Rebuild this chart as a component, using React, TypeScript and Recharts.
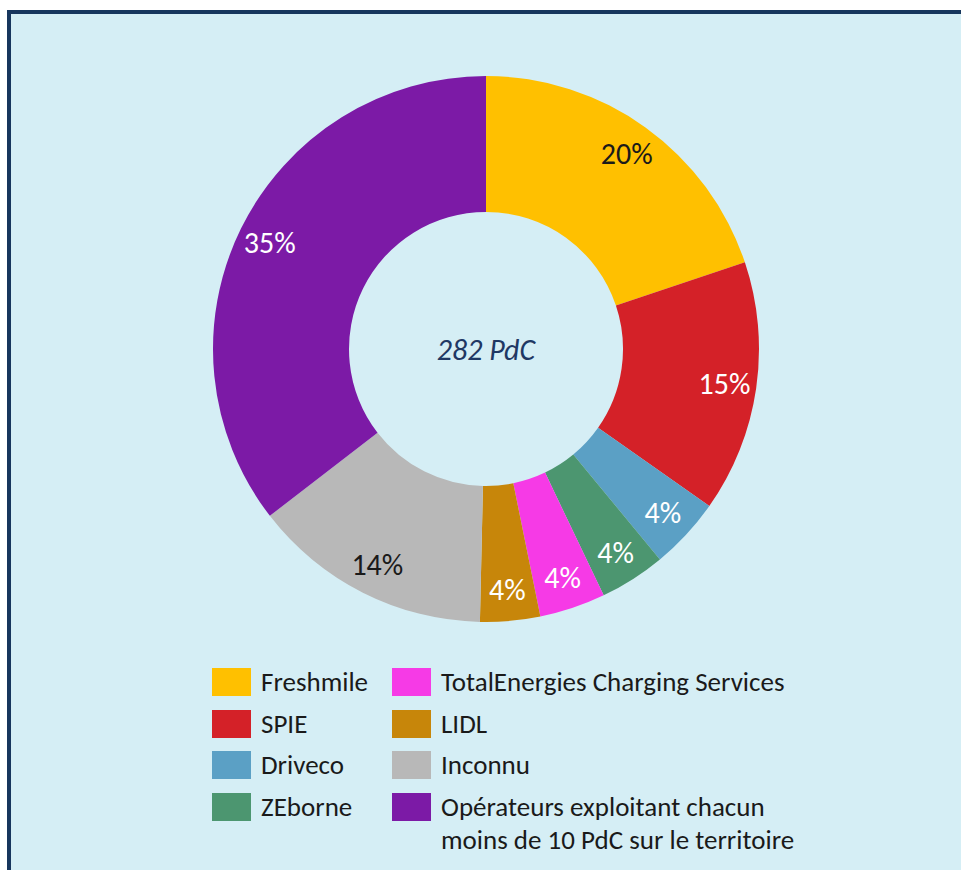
import React from 'react';
import { PieChart, Pie, Cell, Legend, Label } from 'recharts';

// Points de charge par opérateur (total 282 PdC)
const operators = [
    'Freshmile',
    'SPIE',
    'Driveco',
    'ZEborne',
    'TotalEnergies Charging Services',
    'LIDL',
    'Inconnu',
    'Opérateurs exploitant chacun moins de 10 PdC sur le territoire'
];
const pointsDeCharge = [56, 42, 12, 11, 11, 10, 40, 100];
const sliceColors = ['#FFC000', '#D42128', '#5BA0C5', '#4C9670', '#F63AE6', '#C7860A', '#B8B8B8', '#7C1AA6'];
const labelColors = ['#1a1a1a', '#ffffff', '#ffffff', '#ffffff', '#ffffff', '#ffffff', '#1a1a1a', '#ffffff'];
const totalLabel = '282 PdC';

const FONT = 'Calibri, Carlito, Lato, sans-serif';
const RADIAN = Math.PI / 180;

const chartData = operators.map((name, i) => ({
    name,
    value: pointsDeCharge[i]
}));

const renderPercent = (props: any) => {
    const { cx, cy, midAngle, percent, index } = props;
    const r = 241;
    const x = cx + r * Math.cos(-midAngle * RADIAN);
    const y = cy + r * Math.sin(-midAngle * RADIAN);
    return (
        <text
            x={x}
            y={y}
            fill={labelColors[index]}
            textAnchor="middle"
            dominantBaseline="central"
            style={{ fontFamily: FONT, fontSize: 30 }}
        >
            {`${Math.round(percent * 100)}%`}
        </text>
    );
};

const renderCenter = (props: any) => {
    const vb = props.viewBox || {};
    return (
        <text
            x={vb.cx ?? 486}
            y={vb.cy ?? 349}
            fill="#1F3864"
            textAnchor="middle"
            dominantBaseline="central"
            style={{ fontFamily: FONT, fontSize: 30, fontStyle: 'italic' }}
        >
            {totalLabel}
        </text>
    );
};

const renderLegend = (props: any) => {
    // keep the slice order (Recharts sorts legend items by name)
    const items = [...(props.payload || [])].sort(
        (a: any, b: any) => operators.indexOf(a.value) - operators.indexOf(b.value)
    );
    return (
        <div style={{ position: 'relative', width: 961, height: 200, fontFamily: FONT }}>
            {items.map((entry: any) => {
                const i = operators.indexOf(entry.value);
                const col = i < 4 ? 0 : 1;
                const row = i % 4;
                const left = col === 0 ? 212 : 392;
                const top = 8 + row * 41.7;
                const lines = i === 7
                    ? ['Opérateurs exploitant chacun', 'moins de 10 PdC sur le territoire']
                    : [entry.value];
                return (
                    <div key={entry.value} style={{ position: 'absolute', left, top }}>
                        <div
                            style={{
                                position: 'absolute',
                                left: 0,
                                top: 0,
                                width: 39,
                                height: 28,
                                background: sliceColors[i]
                            }}
                        />
                        <div
                            style={{
                                position: 'absolute',
                                left: 49,
                                top: -3,
                                whiteSpace: 'nowrap',
                                fontSize: 27,
                                lineHeight: '33px',
                                color: '#1a1a1a'
                            }}
                        >
                            {lines.map(l => <div key={l}>{l}</div>)}
                        </div>
                    </div>
                );
            })}
        </div>
    );
};

export default function App() {
    return (
        <div style={{ position: 'fixed', left: 0, top: 0, width: 961, height: 870, background: '#ffffff', overflow: 'hidden' }}>
            <div
                style={{
                    position: 'absolute',
                    left: 7,
                    top: 10,
                    width: 970,
                    height: 880,
                    background: '#D5EEF5',
                    borderLeft: '4px solid #17365D',
                    borderTop: '4px solid #17365D'
                }}
            />
            <div style={{ position: 'absolute', left: 0, top: 0 }}>
                <PieChart width={961} height={870} margin={{ top: 0, right: 0, bottom: 0, left: 0 }}>
                    <Pie
                        data={chartData}
                        dataKey="value"
                        nameKey="name"
                        cx={486}
                        cy={349}
                        innerRadius={137}
                        outerRadius={273}
                        startAngle={90}
                        endAngle={-270}
                        stroke="none"
                        label={renderPercent}
                        labelLine={false}
                        isAnimationActive={false}
                    >
                        {chartData.map((d, i) => (
                            <Cell key={d.name} fill={sliceColors[i]} />
                        ))}
                        <Label position="center" content={renderCenter} />
                    </Pie>
                    <Legend
                        content={renderLegend}
                        wrapperStyle={{ position: 'absolute', left: 0, top: 660, width: 961, height: 200 }}
                    />
                </PieChart>
            </div>
        </div>
    );
}
